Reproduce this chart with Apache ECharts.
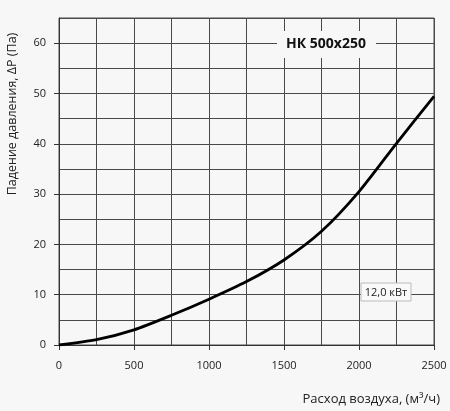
<!DOCTYPE html>
<html>
<head>
<meta charset="utf-8">
<script src="https://cdn.jsdelivr.net/npm/echarts@6/dist/echarts.min.js"></script>
<style>
html,body{margin:0;padding:0;background:#f7f7f7;}
#c{width:450px;height:411px;}
</style>
</head>
<body>
<div id="c"></div>
<script>
const flowValues = [0, 250, 500, 750, 1000, 1250, 1500, 1750, 2000, 2250, 2500];
const pressureValues = [0, 1.05, 3.0, 5.9, 9.1, 12.6, 16.9, 22.6, 30.5, 40.1, 49.4];
const xTickLabels = [0, 500, 1000, 1500, 2000, 2500];
const yTickLabels = [0, 10, 20, 30, 40, 50, 60];
const titleText = 'НК 500x250';
const powerText = '12,0 кВт';
const xName = 'Расход воздуха, (м³/ч)';
const yName = 'Падение давления, ΔP (Па)';

const font = '"Open Sans", "Noto Sans", sans-serif';
const gridColor = '#4a4a4a';
const chart = echarts.init(document.getElementById('c'), null, {renderer: 'canvas'});
chart.setOption({
  backgroundColor: '#f7f7f7',
  animation: false,
  grid: {left: 59, right: 16, top: 18, bottom: 66, containLabel: false,
         show: true, borderColor: gridColor, borderWidth: 1, backgroundColor: 'rgba(0,0,0,0)'},
  xAxis: [{
    type: 'value', min: 0, max: 2500, interval: 250,
    axisLine: {show: true, lineStyle: {color: '#333', width: 1}},
    splitLine: {show: true, lineStyle: {color: gridColor, width: 1}},
    axisTick: {show: false},
    axisLabel: {margin: 15, color: '#222', fontSize: 11, fontFamily: font,
                formatter: v => (xTickLabels.indexOf(v) >= 0 ? String(v) : '')}
  }, {
    type: 'value', min: 0, max: 2500, position: 'bottom',
    axisLine: {show: false}, splitLine: {show: false}, axisLabel: {show: false},
    axisTick: {show: true, length: 5, customValues: xTickLabels, lineStyle: {color: '#333'}}
  }],
  yAxis: [{
    type: 'value', min: 0, max: 65, interval: 5,
    axisLine: {show: true, lineStyle: {color: '#333', width: 1}},
    splitLine: {show: true, lineStyle: {color: gridColor, width: 1}},
    axisTick: {show: false},
    axisLabel: {margin: 13, color: '#222', fontSize: 11, fontFamily: font,
                formatter: v => (yTickLabels.indexOf(v) >= 0 ? String(v) : '')}
  }, {
    type: 'value', min: 0, max: 65, position: 'left',
    axisLine: {show: false}, splitLine: {show: false}, axisLabel: {show: false},
    axisTick: {show: true, length: 5, customValues: yTickLabels, lineStyle: {color: '#333'}}
  }],
  series: [{
    type: 'line',
    data: flowValues.map((x, i) => [x, pressureValues[i]]),
    smooth: 0.25,
    symbol: 'none',
    lineStyle: {color: '#000', width: 2.8},
    z: 5
  }],
  graphic: [
    {type: 'rect', shape: {x: 277, y: 31, width: 99, height: 27}, style: {fill: '#f7f7f7'}, z: 10},
    {type: 'text', x: 326, y: 44.5, style: {text: titleText, font: 'bold 14px ' + font, fill: '#111', align: 'center', verticalAlign: 'middle'}, z: 11},
    {type: 'rect', shape: {x: 361, y: 283, width: 50, height: 18}, style: {fill: '#f9f9f9', stroke: '#bbb', lineWidth: 1}, z: 10},
    {type: 'text', x: 386, y: 292.5, style: {text: powerText, font: '11px ' + font, fill: '#222', align: 'center', verticalAlign: 'middle'}, z: 11},
    {type: 'text', x: 440, y: 399, style: {text: xName, font: '13px ' + font, fill: '#222', align: 'right', verticalAlign: 'middle'}, z: 11},
    {type: 'text', x: 12, y: 114, rotation: Math.PI / 2, style: {text: yName, font: '12.5px ' + font, fill: '#222', align: 'center', verticalAlign: 'middle'}, z: 11}
  ]
});
</script>
</body>
</html>
